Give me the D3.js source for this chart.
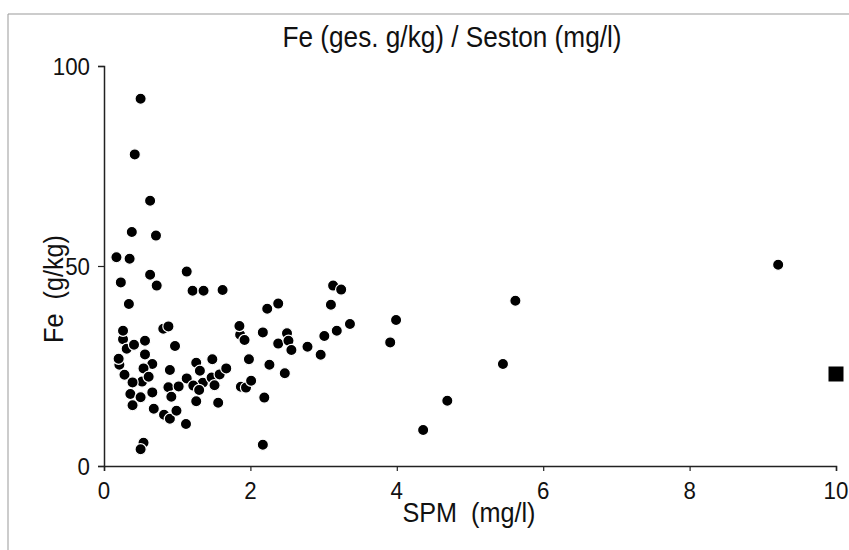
<!DOCTYPE html>
<html>
<head>
<meta charset="utf-8">
<script src="https://cdn.jsdelivr.net/npm/d3@7"></script>
<style>
    body { margin: 0; background: #fff; }
    text { font-family: "Liberation Sans", Arial, sans-serif; fill: #111; white-space: pre; }
</style>
</head>
<body>
<div class="chart-container"></div>
<script>
// SPM (mg/l) and Fe (g/kg); partly hidden points first
var spm = [0.26, 0.21, 0.31, 0.81, 0.90, 1.13, 1.26, 1.35, 1.86, 1.87, 2.50, 3.13, 0.54, 0.52,
    0.50, 0.42, 0.63, 0.38, 0.71, 0.17, 0.35, 0.23, 0.63, 0.72, 1.13, 1.21, 1.36, 1.62,
    0.34, 2.23, 2.38, 0.26, 0.41, 0.56, 0.56, 0.66, 0.20, 0.28, 0.39, 0.54, 0.61,
    0.36, 0.39, 0.50, 0.66, 0.68, 0.82, 0.90, 0.99, 1.12, 0.50, 0.88, 0.97, 0.88,
    0.92, 1.02, 1.31, 1.48, 1.22, 1.30, 1.47, 1.58, 1.67, 1.51, 1.26, 1.56, 1.85, 1.92,
    2.17, 1.98, 2.26, 2.38, 2.52, 2.47, 1.94, 2.01, 2.19, 2.17, 3.24, 3.10, 3.99, 3.36,
    3.18, 3.01, 2.56, 2.78, 2.96, 3.91, 4.36, 5.62, 5.45, 4.69, 9.21];
var fe = [31.7, 25.3, 29.3, 34.3, 24.0, 21.9, 25.8, 20.8, 32.8, 19.8, 33.2, 45.1, 5.8, 21.1,
    91.8, 77.9, 66.3, 58.5, 57.6, 52.2, 51.8, 45.9, 47.8, 45.1, 48.6, 43.8, 43.8, 44.0,
    40.5, 39.3, 40.6, 33.8, 30.3, 31.3, 27.9, 25.5, 26.8, 22.8, 20.9, 24.4, 22.3,
    18.0, 15.2, 17.2, 18.4, 14.3, 12.8, 11.8, 13.8, 10.5, 4.2, 34.9, 30.0, 19.7,
    17.3, 19.9, 23.8, 26.7, 20.1, 19.0, 22.1, 22.9, 24.4, 20.2, 16.2, 15.8, 35.0, 31.5,
    33.4, 26.7, 25.3, 30.6, 31.3, 23.2, 19.6, 21.3, 17.1, 5.3, 44.1, 40.3, 36.5, 35.5,
    33.8, 32.5, 29.0, 29.8, 27.8, 30.9, 9.0, 41.3, 25.5, 16.3, 50.3];
// the single square marker at the right edge
var squareSpm = [10];
var squareFe = [23];

var xTicks = [0, 2, 4, 6, 8, 10];
var yTicks = [0, 50, 100];

var title = "Fe (ges. g/kg) / Seston (mg/l)";
var xLabel = "SPM  (mg/l)";
var yLabel = "Fe  (g/kg)";

var width = 849, height = 550;
var margin = { top: 66, right: 13, bottom: 84, left: 104 };

var svg = d3.select(".chart-container").append("svg")
    .attr("width", width)
    .attr("height", height);

// outer frame of the scanned page
svg.append("path")
    .attr("d", "M8," + height + "V14H" + width)
    .attr("fill", "none")
    .attr("stroke", "#999")
    .attr("stroke-width", 1);

var x = d3.scaleLinear().domain([0, 10]).range([margin.left, width - margin.right]);
var y = d3.scaleLinear().domain([0, 100]).range([height - margin.bottom, margin.top]);

// scanned text is a little taller than Arial
function tallText(sel, px, py, size, anchor, rotate) {
    var t = "translate(" + px + "," + py + ")" + (rotate ? " rotate(-90)" : "") + " scale(0.97,1.08)";
    return sel.append("text")
        .attr("transform", t)
        .attr("text-anchor", anchor)
        .style("font-size", size + "px");
}

var xAxis = svg.append("g")
    .attr("transform", "translate(0," + y(0) + ")")
    .call(d3.axisBottom(x).tickValues(xTicks).tickSize(5).tickFormat(""));
var yAxis = svg.append("g")
    .attr("transform", "translate(" + x(0) + ",0)")
    .call(d3.axisLeft(y).tickValues(yTicks).tickSize(6).tickFormat(""));
[xAxis, yAxis].forEach(function(a) {
    a.select(".domain").attr("stroke", "#222").attr("stroke-width", 1.5);
    a.selectAll(".tick line").attr("stroke", "#222").attr("stroke-width", 1.2);
});

xTicks.forEach(function(v) {
    tallText(svg, x(v), y(0) + 33, 23, "middle").text(v);
});
yTicks.forEach(function(v) {
    tallText(svg, x(0) - 14, y(v) + 9, 23, "end").text(v);
});

tallText(svg, 452, 47, 27, "middle").text(title);
tallText(svg, 469, 522, 26, "middle").text(xLabel);
tallText(svg, 63, 289, 26, "middle", true).text(yLabel);

var points = d3.zip(spm, fe);
svg.append("g").selectAll("circle")
    .data(points).enter().append("circle")
    .attr("cx", function(d) { return x(d[0]); })
    .attr("cy", function(d) { return y(d[1]); })
    .attr("r", 5.6)
    .attr("fill", "#000")
    .attr("stroke", "#fff")
    .attr("stroke-width", 1.2);

svg.append("g").selectAll("rect")
    .data(d3.zip(squareSpm, squareFe)).enter().append("rect")
    .attr("x", function(d) { return x(d[0]) - 7.5; })
    .attr("y", function(d) { return y(d[1]) - 7.5; })
    .attr("width", 15)
    .attr("height", 15)
    .attr("fill", "#000");
</script>
</body>
</html>
